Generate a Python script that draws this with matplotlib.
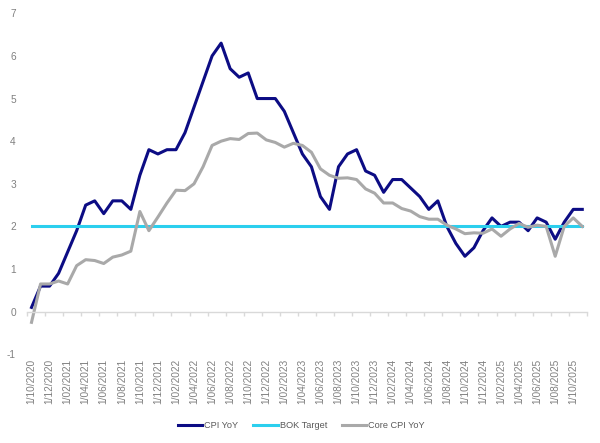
import numpy as np
import pandas as pd
import matplotlib
matplotlib.use("Agg")
import matplotlib.pyplot as plt

# Monatsdaten Okt 2020 - Nov 2025
months = pd.date_range("2020-10-01", periods=62, freq="MS")
tick_labels = [f"1/{d.month:02d}/{d.year}" for d in months]

cpi_yoy = [0.1, 0.6, 0.6, 0.9, 1.4, 1.9, 2.5, 2.6, 2.3, 2.6, 2.6, 2.4,
           3.2, 3.8, 3.7, 3.8, 3.8, 4.2, 4.8, 5.4, 6.0, 6.3, 5.7, 5.5,
           5.6, 5.0, 5.0, 5.0, 4.7, 4.2, 3.7, 3.4, 2.7, 2.4, 3.4, 3.7,
           3.8, 3.3, 3.2, 2.8, 3.1, 3.1, 2.9, 2.7, 2.4, 2.6, 2.0, 1.6,
           1.3, 1.5, 1.9, 2.2, 2.0, 2.1, 2.1, 1.9, 2.2, 2.1, 1.7, 2.1,
           2.4, 2.4]

core_cpi_yoy = [-0.25, 0.65, 0.65, 0.72, 0.65, 1.08, 1.22, 1.2, 1.13, 1.28, 1.33, 1.42,
                2.35, 1.9, 2.22, 2.55, 2.85, 2.84, 3.0, 3.4, 3.9, 4.0, 4.06, 4.04,
                4.18, 4.19, 4.03, 3.97, 3.86, 3.95, 3.9, 3.74, 3.35, 3.2, 3.13, 3.14,
                3.1, 2.88, 2.78, 2.55, 2.55, 2.42, 2.36, 2.23, 2.17, 2.17, 2.03, 1.94,
                1.83, 1.85, 1.84, 1.94, 1.77, 1.94, 2.07, 1.98, 2.03, 2.0, 1.3, 2.0,
                2.2, 2.0]

bok_target = 2.0

plt.rcParams['font.family'] = ['Liberation Sans', 'DejaVu Sans']
plt.rcParams['axes.unicode_minus'] = False

x = np.arange(len(months))

fig = plt.figure(figsize=(6, 4.43), dpi=100)
ax = fig.add_axes([0.045, 0.2002, 0.933, 0.7698])

ax.plot(x, cpi_yoy, color='#0c0c84', lw=2.2, label='CPI YoY', solid_joinstyle='round')
ax.plot(x, np.full(len(x), bok_target), color='#2ccfee', lw=2.2, label='BOK Target')
ax.plot(x, core_cpi_yoy, color='#a9a9a9', lw=2.2, label='Core CPI YoY', solid_joinstyle='round')

ax.set_xlim(-0.5, len(x) - 0.5)
ax.set_ylim(-1, 7)
ax.set_yticks(range(-1, 8))

# Achse bei y=0, Beschriftung unten
for s in ['top', 'right', 'left']:
    ax.spines[s].set_visible(False)
ax.spines['bottom'].set_position(('data', 0))
ax.spines['bottom'].set_color('#d9d9d9')
ax.spines['bottom'].set_linewidth(1.0)

ax.set_xticks(x[::2])
ax.set_xticklabels(tick_labels[::2], rotation=90)
ax.set_xticks(np.arange(-0.5, len(x), 2), minor=True)
ax.tick_params(axis='x', which='major', length=0, pad=34, labelsize=7.3, labelcolor='#808080')
ax.tick_params(axis='x', which='minor', length=3, width=1, color='#d9d9d9', direction='out')
ax.tick_params(axis='y', length=0, pad=8, labelsize=7.3, labelcolor='#808080')

fig.legend(loc='center', bbox_to_anchor=(0.502, 0.04), ncol=3, frameon=False,
           fontsize=6.6, handlelength=2.7, handletextpad=0.2, columnspacing=1.6,
           labelcolor='#595959')

fig.savefig('out.png', dpi=100)
